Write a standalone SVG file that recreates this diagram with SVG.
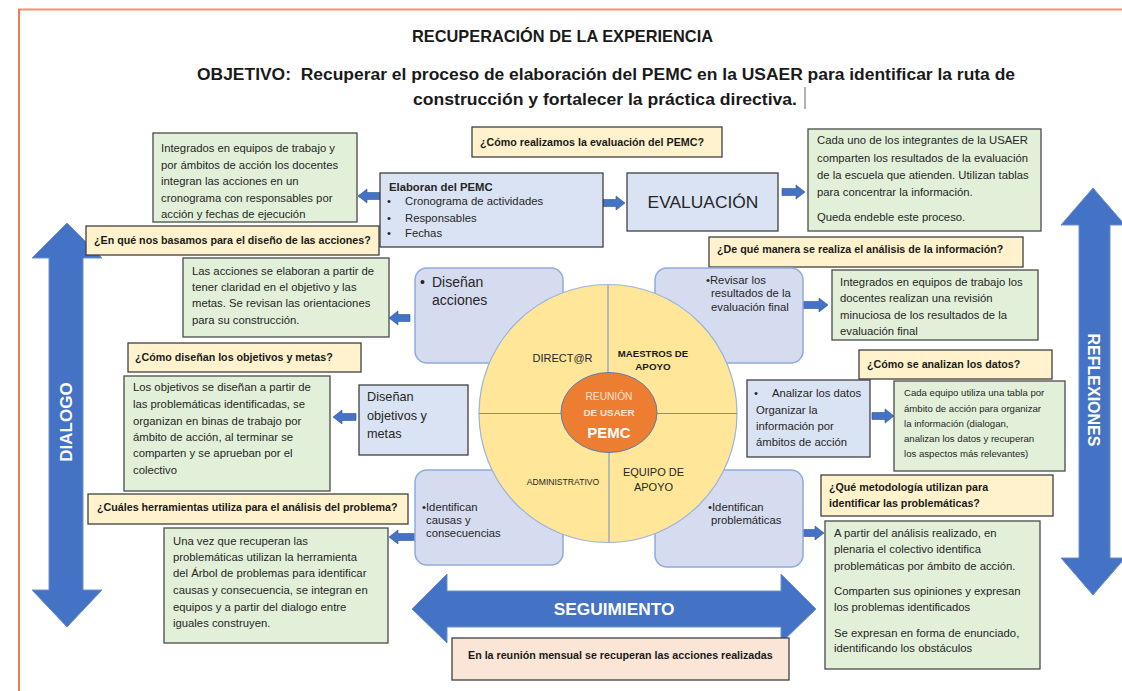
<svg xmlns="http://www.w3.org/2000/svg" width="1122" height="691" viewBox="0 0 1122 691">
<style>
.g{fill:#E2F0D9;stroke:#4A4A4A;stroke-width:1.3}
.q{fill:#FFF2CC;stroke:#404040;stroke-width:1.3}
.b{fill:#DAE3F3;stroke:#404040;stroke-width:1.3}
.r{fill:#D6DCF0;stroke:#8FAADC;stroke-width:1.5}
.t{font-family:"Liberation Sans",Arial,sans-serif;font-size:11.3px;fill:#262626}
.ts{font-family:"Liberation Sans",Arial,sans-serif;font-size:9.6px;fill:#262626}
.qt{font-family:"Liberation Sans",Arial,sans-serif;font-size:10.7px;font-weight:bold;fill:#1a1a1a}
.h{font-family:"Liberation Sans",Arial,sans-serif;font-weight:bold;fill:#1a1a1a}
.arr{fill:#4472C4;stroke:#2F5597;stroke-width:0.6}
.big{fill:#4472C4;stroke:#6E8FCB;stroke-width:1}
.bt{font-family:"Liberation Sans",Arial,sans-serif;font-weight:bold;fill:#ffffff}
.c{font-family:"Liberation Sans",Arial,sans-serif;fill:#262626}
</style>
<rect x="0" y="0" width="1122" height="691" fill="#ffffff"/>
<g id="border" fill="none" stroke="#EF7A50" stroke-width="2">
<line x1="18" y1="9.5" x2="1122" y2="9.5" stroke="#F39270"/>
<line x1="19" y1="9" x2="19" y2="691"/>
</g>
<g id="title">
<text class="h" x="412" y="42" font-size="16.5" textLength="301" lengthAdjust="spacingAndGlyphs">RECUPERACIÓN DE LA EXPERIENCIA</text>
<text class="h" x="197" y="80" font-size="16" xml:space="preserve" textLength="818" lengthAdjust="spacingAndGlyphs">OBJETIVO:  Recuperar el proceso de elaboración del PEMC en la USAER para identificar la ruta de</text>
<text class="h" x="413" y="105" font-size="16" textLength="384" lengthAdjust="spacingAndGlyphs">construcción y fortalecer la práctica directiva.</text>
<line x1="805" y1="87" x2="805" y2="109" stroke="#666" stroke-width="1"/>
</g>
<g id="arrow-dialogo">
<path class="big" d="M67,223 L102,258 L83,258 L83,590 L102,590 L67,627 L32,590 L49,590 L49,258 L32,258 Z"/>
<text class="bt" font-size="17" text-anchor="middle" transform="translate(66,422) rotate(-90)" y="6">DIALOGO</text>
</g>
<g id="arrow-reflexiones">
<path class="big" d="M1093,188 L1125,225 L1110,225 L1110,558 L1125,558 L1093,595 L1061,558 L1079,558 L1079,225 L1061,225 Z"/>
<text class="bt" font-size="16" text-anchor="middle" transform="translate(1094,390) rotate(90)" y="6">REFLEXIONES</text>
</g>
<g id="arrow-seguimiento">
<path class="big" d="M412,609 L447,574 L447,591 L781,591 L781,574 L816,609 L781,643 L781,627 L447,627 L447,643 Z"/>
<text class="bt" font-size="17.3" text-anchor="middle" x="614" y="615">SEGUIMIENTO</text>
</g>
<g id="connectors">
<path class="arr" d="M380,192.5 L367,192.5 L367,189 L358,196 L367,203 L367,199.5 L380,199.5 Z"/>
<path class="arr" d="M603,199.5 L616,199.5 L616,196 L625,203 L616,210 L616,206.5 L603,206.5 Z"/>
<path class="arr" d="M782,188.5 L796,188.5 L796,185 L805,192 L796,199 L796,195.5 L782,195.5 Z"/>
<path class="arr" d="M410,314.5 L398,314.5 L398,311 L389,318 L398,325 L398,321.5 L410,321.5 Z"/>
<path class="arr" d="M356,413.5 L342,413.5 L342,410 L333,417 L342,424 L342,420.5 L356,420.5 Z"/>
<path class="arr" d="M803,301.5 L819,301.5 L819,298 L828,305 L819,312 L819,308.5 L803,308.5 Z"/>
<path class="arr" d="M872,412.5 L885,412.5 L885,409 L894,416 L885,423 L885,419.5 L872,419.5 Z"/>
<path class="arr" d="M803,529.5 L815,529.5 L815,526 L824,533 L815,540 L815,536.5 L803,536.5 Z"/>
<path class="arr" d="M416,533.5 L398,533.5 L398,530 L389,537 L398,544 L398,540.5 L416,540.5 Z"/>
</g>
<g id="q-evaluacion">
<rect class="q" x="472" y="127" width="250" height="30"/>
<text class="qt" x="480" y="146">¿Cómo realizamos la evaluación del PEMC?</text>
</g>
<g id="g-cronograma">
<rect class="g" x="153" y="133" width="204" height="89"/>
<text class="t" x="161" y="152">Integrados en equipos de trabajo y</text>
<text class="t" x="161" y="169">por ámbitos de acción los docentes</text>
<text class="t" x="161" y="185">integran las acciones en un</text>
<text class="t" x="161" y="202">cronograma con responsables por</text>
<text class="t" x="161" y="218">acción y fechas de ejecución</text>
</g>
<g id="b-elaboran">
<rect class="b" x="380" y="173" width="223" height="74"/>
<text class="t" x="389" y="191" font-weight="bold">Elaboran del PEMC</text>
<text class="t" x="387" y="205">•</text><text class="t" x="405" y="205">Cronograma de actividades</text>
<text class="t" x="387" y="222">•</text><text class="t" x="405" y="222">Responsables</text>
<text class="t" x="387" y="237">•</text><text class="t" x="405" y="237">Fechas</text>
</g>
<g id="b-evaluacion">
<rect class="b" x="627" y="173" width="151" height="58"/>
<text class="c" x="703" y="208" font-size="17.4" text-anchor="middle">EVALUACIÓN</text>
</g>
<g id="g-evaluacion">
<rect class="g" x="808" y="129" width="233" height="102"/>
<text class="t" x="817" y="144">Cada uno de los integrantes de la USAER</text>
<text class="t" x="817" y="162">comparten los resultados de la evaluación</text>
<text class="t" x="817" y="179">de la escuela que atienden. Utilizan tablas</text>
<text class="t" x="817" y="196">para concentrar la información.</text>
<text class="t" x="817" y="221">Queda endeble este proceso.</text>
</g>
<g id="q-basamos">
<rect class="q" x="86" y="226" width="293" height="29"/>
<text class="qt" x="94" y="244">¿En qué nos basamos para el diseño de las acciones?</text>
</g>
<g id="q-analisis">
<rect class="q" x="709" y="237" width="314" height="30"/>
<text class="qt" x="717" y="253">¿De qué manera se realiza el análisis de la información?</text>
</g>
<g id="g-acciones">
<rect class="g" x="183" y="258" width="206" height="79"/>
<text class="t" x="192" y="275">Las acciones se elaboran a partir de</text>
<text class="t" x="192" y="291">tener claridad en el objetivo y las</text>
<text class="t" x="192" y="307">metas. Se revisan las orientaciones</text>
<text class="t" x="192" y="324">para su construcción.</text>
</g>
<g id="r-disenan-acciones">
<rect class="r" x="415" y="268" width="148" height="95" rx="12"/>
<text class="c" x="420" y="287" font-size="14">•</text>
<text class="c" x="432" y="287" font-size="14">Diseñan</text>
<text class="c" x="432" y="305" font-size="14">acciones</text>
</g>
<g id="r-revisar">
<rect class="r" x="655" y="268" width="148" height="95" rx="12"/>
<text class="t" x="706" y="284">•Revisar los</text>
<text class="t" x="711" y="297">resultados de la</text>
<text class="t" x="711" y="311">evaluación final</text>
</g>
<g id="g-revision">
<rect class="g" x="832" y="270" width="206" height="70"/>
<text class="t" x="840" y="286">Integrados en equipos de trabajo los</text>
<text class="t" x="840" y="302">docentes realizan una revisión</text>
<text class="t" x="840" y="319">minuciosa de los resultados de la</text>
<text class="t" x="840" y="335">evaluación final</text>
</g>
<g id="q-objetivos">
<rect class="q" x="128" y="343" width="233" height="29"/>
<text class="qt" x="135" y="361">¿Cómo diseñan los objetivos y metas?</text>
</g>
<g id="q-datos">
<rect class="q" x="859" y="350" width="193" height="29"/>
<text class="qt" x="867" y="368">¿Cómo se analizan los datos?</text>
</g>
<g id="g-objetivos">
<rect class="g" x="124" y="376" width="206" height="115"/>
<text class="t" x="133" y="391">Los objetivos se diseñan a partir de</text>
<text class="t" x="133" y="408">las problemáticas identificadas, se</text>
<text class="t" x="133" y="425">organizan en binas de trabajo por</text>
<text class="t" x="133" y="441">ámbito de acción, al terminar se</text>
<text class="t" x="133" y="457">comparten y se aprueban por el</text>
<text class="t" x="133" y="474">colectivo</text>
</g>
<g id="b-disenan-objetivos">
<rect class="b" x="359" y="385" width="109" height="70"/>
<text class="c" x="367" y="401" font-size="12.7">Diseñan</text>
<text class="c" x="367" y="420" font-size="12.7">objetivos y</text>
<text class="c" x="367" y="438" font-size="12.7">metas</text>
</g>
<g id="b-analizar">
<rect class="b" x="747" y="380" width="123" height="77"/>
<text class="t" x="754" y="397">•</text>
<text class="t" x="772" y="397">Analizar los datos</text>
<text class="t" x="756" y="414">Organizar la</text>
<text class="t" x="756" y="430">información por</text>
<text class="t" x="756" y="446">ámbitos de acción</text>
</g>
<g id="g-tabla">
<rect class="g" x="894" y="381" width="171" height="90"/>
<text class="ts" x="904" y="396">Cada equipo utiliza una tabla por</text>
<text class="ts" x="904" y="411.5">ámbito de acción para organizar</text>
<text class="ts" x="904" y="427">la información (dialogan,</text>
<text class="ts" x="904" y="442">analizan los datos y recuperan</text>
<text class="ts" x="904" y="457">los aspectos más relevantes)</text>
</g>
<g id="r-causas">
<rect class="r" x="415" y="470" width="148" height="95" rx="12"/>
<text class="t" x="422" y="511">•Identifican</text>
<text class="t" x="426" y="524">causas y</text>
<text class="t" x="426" y="537">consecuencias</text>
</g>
<g id="r-problematicas">
<rect class="r" x="655" y="470" width="148" height="97" rx="12"/>
<text class="t" x="708" y="511">•Identifican</text>
<text class="t" x="711" y="524">problemáticas</text>
</g>
<g id="circle-reunion">
<circle cx="608" cy="413.5" r="129" fill="#FFE699" stroke="#9DB3DC" stroke-width="1.2"/>
<line x1="608" y1="285" x2="608" y2="413" stroke="#6F8FC9" stroke-width="1"/>
<line x1="609" y1="413" x2="609" y2="542" stroke="#6F8FC9" stroke-width="1"/>
<line x1="479" y1="413.5" x2="737" y2="413.5" stroke="#6F8FC9" stroke-width="1"/>
<text class="c" x="562.5" y="362" font-size="11" text-anchor="middle">DIRECT@R</text>
<text class="h" x="653" y="356.5" font-size="9.6" text-anchor="middle">MAESTROS DE</text>
<text class="h" x="653" y="369.5" font-size="9.8" text-anchor="middle">APOYO</text>
<text class="c" x="563" y="485" font-size="8.6" text-anchor="middle">ADMINISTRATIVO</text>
<text class="c" x="653.5" y="476" font-size="11" text-anchor="middle">EQUIPO DE</text>
<text class="c" x="653.5" y="491" font-size="11" text-anchor="middle">APOYO</text>
</g>
<g id="ellipse-pemc">
<ellipse cx="609" cy="412.5" rx="48" ry="40" fill="#ED7D31" stroke="#5B7BB5" stroke-width="1"/>
<text class="c" x="609" y="399.5" font-size="10.2" text-anchor="middle" style="fill:#FCE4D6">REUNIÓN</text>
<text class="h" x="609" y="415.5" font-size="9.9" text-anchor="middle" style="fill:#FCE4D6">DE USAER</text>
<text class="bt" x="609" y="437.5" font-size="15" text-anchor="middle">PEMC</text>
</g>
<g id="q-metodologia">
<rect class="q" x="821" y="475" width="232" height="41"/>
<text class="qt" x="829" y="491">¿Qué metodología utilizan para</text>
<text class="qt" x="829" y="507">identificar las problemáticas?</text>
</g>
<g id="q-herramientas">
<rect class="q" x="88" y="494" width="320" height="30"/>
<text class="qt" x="97" y="511">¿Cuáles herramientas utiliza para el análisis del problema?</text>
</g>
<g id="g-plenaria">
<rect class="g" x="825" y="521" width="215" height="148"/>
<text class="t" x="834" y="537">A partir del análisis realizado, en</text>
<text class="t" x="834" y="553">plenaria el colectivo identifica</text>
<text class="t" x="834" y="570">problemáticas por ámbito de acción.</text>
<text class="t" x="834" y="595">Comparten sus opiniones y expresan</text>
<text class="t" x="834" y="611">los problemas identificados</text>
<text class="t" x="834" y="637">Se expresan en forma de enunciado,</text>
<text class="t" x="834" y="652">identificando los obstáculos</text>
</g>
<g id="g-arbol">
<rect class="g" x="164" y="528" width="224" height="115"/>
<text class="t" x="173" y="545">Una vez que recuperan las</text>
<text class="t" x="173" y="561">problemáticas utilizan la herramienta</text>
<text class="t" x="173" y="577">del Árbol de problemas para identificar</text>
<text class="t" x="173" y="594">causas y consecuencia, se integran en</text>
<text class="t" x="173" y="611">equipos y a partir del dialogo entre</text>
<text class="t" x="173" y="627">iguales construyen.</text>
</g>
<g id="box-reunion-mensual">
<rect x="452" y="638" width="337" height="42" fill="#FBE5D6" stroke="#404040" stroke-width="1.3"/>
<text class="qt" x="468" y="659">En la reunión mensual se recuperan las acciones realizadas</text>
</g>
</svg>
